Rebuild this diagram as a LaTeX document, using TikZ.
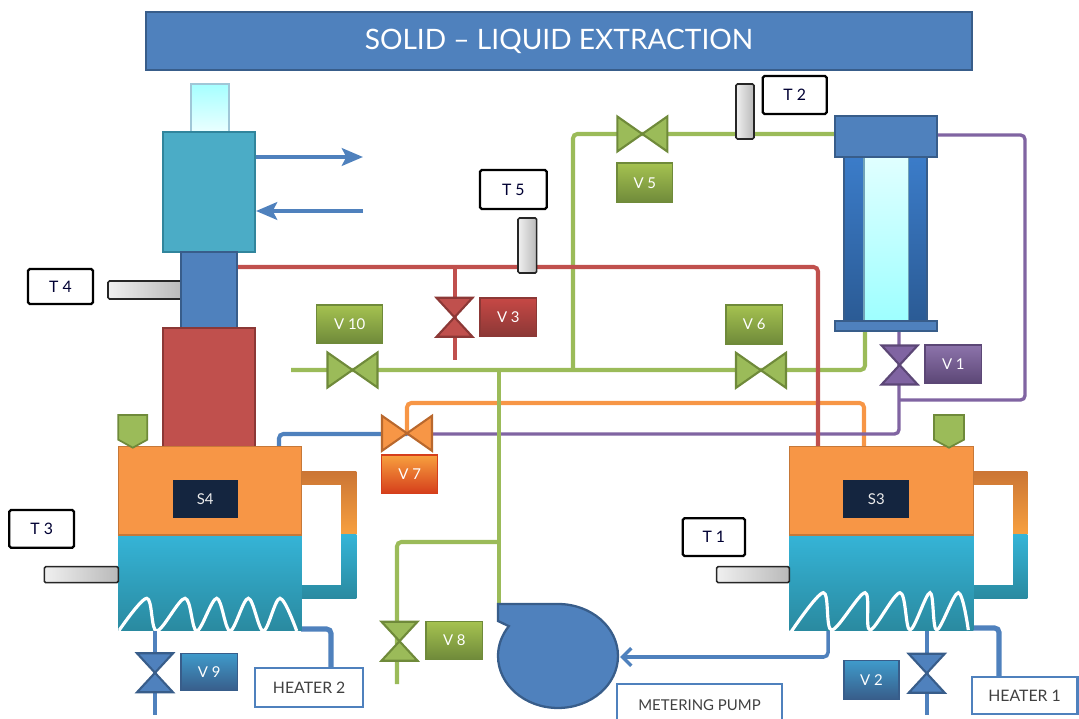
\documentclass[tikz,border=0pt]{standalone}
\usepackage{fontspec}
\setmainfont{Lato}
\usetikzlibrary{arrows.meta,fit}

\definecolor{hdblue}{HTML}{4F81BD}
\definecolor{hdbluedk}{HTML}{385D8A}
\definecolor{lgreen}{HTML}{9BBB59}
\definecolor{lgreendk}{HTML}{6F8A3A}
\definecolor{lred}{HTML}{C0504D}
\definecolor{lreddk}{HTML}{8C3836}
\definecolor{lorange}{HTML}{F79646}
\definecolor{lorangedk}{HTML}{B9682D}
\definecolor{lpurple}{HTML}{8064A2}
\definecolor{lpurpledk}{HTML}{5C4776}
\definecolor{cond}{HTML}{4BACC6}
\definecolor{conddk}{HTML}{31859C}
\definecolor{bathtop}{HTML}{35B4D7}
\definecolor{bathbot}{HTML}{2A8AA0}
\definecolor{navy}{HTML}{14253F}
\definecolor{colbody}{HTML}{3B7CC9}
\definecolor{colbodydk}{HTML}{2B5B95}

\newcommand\tagfont{\fontsize{8.5}{10}\selectfont}
\newcommand\tfont{\fontsize{9}{10}\selectfont}

\begin{document}
\begin{tikzpicture}[x=0.02cm,y=-0.02cm,
  pipe/.style={line width=2.3pt, rounded corners=2.5pt},
  tag/.style 2 args={inner sep=0pt, top color=#1, bottom color=#2, draw=#2, line width=0.6pt},
  tagtext/.style={inner sep=0pt, text=white, font=\tagfont},
  tbox/.style={inner sep=0pt, fill=white, draw=black, line width=1.3pt, rounded corners=1pt},
  ttext/.style={inner sep=0pt, text=black!80!blue, font=\tfont},
  boxlabel/.style={inner sep=0pt, fill=white, draw=hdblue, line width=1.2pt},
  boxtext/.style={inner sep=0pt, text=black!75, font=\tfont},
  sensor/.style={draw=black!85, line width=0.9pt, rounded corners=0.8pt, left color=gray!12, right color=gray!55},
  hvalve/.pic={\path[pic actions] (-25,-17.5) -- (0,0) -- (-25,17.5) -- cycle (25,-17.5) -- (0,0) -- (25,17.5) -- cycle;},
  vvalve/.pic={\path[pic actions] (-18,-19.5) -- (0,0) -- (18,-19.5) -- cycle (-18,19.5) -- (0,0) -- (18,19.5) -- cycle;},
  gvalve/.style={fill=lgreen, draw=lgreendk, line width=1.2pt},
  ]
\useasboundingbox (0,0) rectangle (1079,719);

% ---------- title ----------
\node[fit={(146,12)(972,70)}, inner sep=0pt, fill=hdblue, draw=hdbluedk, line width=1.2pt] (title) {};
\node[inner sep=0pt, text=white, font=\fontsize{16}{18}\selectfont] (titletext) at (title.center) {SOLID – LIQUID EXTRACTION};

% ---------- pipe junctions ----------
\coordinate (gW) at (291,370);
\coordinate (gJ1) at (499,370);
\coordinate (gJ2) at (573,370);
\coordinate (gE) at (865,370);
\coordinate (colB) at (865,329);
\coordinate (gN) at (573,134);
\coordinate (colT) at (836,134);
\coordinate (gJ3) at (499,542);
\coordinate (gV8) at (397,542);
\coordinate (gS) at (397,684);
\coordinate (pumpO) at (499,606);

\coordinate (rW) at (237,267);
\coordinate (rE) at (818,267);
\coordinate (rS3) at (818,448);
\coordinate (rV3) at (455,267);
\coordinate (rV3e) at (455,360);

\coordinate (oV7) at (407,433);
\coordinate (oN) at (407,403);
\coordinate (oE) at (864,403);
\coordinate (oS3) at (864,448);

\coordinate (pV7) at (407,434);
\coordinate (pJ) at (899,434);
\coordinate (pV1) at (899,330);
\coordinate (pT) at (937,135);
\coordinate (pTR) at (1025,135);
\coordinate (pBR) at (1025,400);
\coordinate (pM) at (899,400);

\coordinate (bS4) at (279,448);
\coordinate (bN) at (279,434);

% ---------- process lines ----------
\draw[pipe, lorange] (oV7) -- (oN) -- (oE) -- (oS3);
\draw[pipe, lpurple, line width=1.9pt] (pV7) -- (pJ) -- (pV1);
\draw[pipe, lpurple, line width=1.9pt] (pT) -- (pTR) -- (pBR) -- (pM);
\draw[pipe, hdblue] (bS4) -- (bN) -- (pV7);
\draw[pipe, lgreen] (gW) -- (gE) -- (colB);
\draw[pipe, lgreen] (gJ2) -- (gN) -- (colT);
\draw[pipe, lgreen] (gJ1) -- (pumpO);
\draw[pipe, lgreen] (gJ3) -- (gV8) -- (gS);
\draw[pipe, lred] (rW) -- (rE) -- (rS3);
\draw[pipe, lred] (rV3) -- (rV3e);

% lines under the baths
\coordinate (s4b) at (155,630);
\coordinate (s4bE) at (155,715);
\coordinate (s4h) at (301,629);
\coordinate (s4hc) at (331,629);
\coordinate (h2t) at (331,669);
\coordinate (s3b) at (927,630);
\coordinate (s3bE) at (927,715);
\coordinate (s3h) at (973,628);
\coordinate (s3hc) at (999,628);
\coordinate (h1t) at (999,677);
\coordinate (s3p) at (828,630);
\coordinate (s3pc) at (828,657);
\coordinate (pumpI) at (620,657);
\draw[pipe, hdblue] (s4b) -- (s4bE);
\draw[pipe, hdblue, line width=2.9pt] (s4h) -- (s4hc) -- (h2t);
\draw[pipe, hdblue] (s3b) -- (s3bE);
\draw[pipe, hdblue, line width=2.9pt] (s3h) -- (s3hc) -- (h1t);
\draw[pipe, hdblue, line width=2pt, -{Straight Barb[length=5pt,width=10pt]}] (s3p) -- (s3pc) -- (pumpI);

% ---------- condenser and reflux column ----------
\draw[sensor] (108,281) rectangle (182,299);
\draw[top color=cyan!35, bottom color=cyan!8, draw=cyan!45!gray!60, line width=1pt] (190.7,84) rectangle (229,131.7);
\node[fit={(163,131.7)(255,251.7)}, inner sep=0pt, fill=cond, draw=conddk, line width=1.3pt] (cond) {};
\node[fit={(181,251.7)(236.7,328)}, inner sep=0pt, fill=hdblue, draw=hdbluedk, line width=1.3pt] (riser) {};
\node[fit={(163.3,328)(255,446.7)}, inner sep=0pt, fill=lred, draw=lreddk, line width=1pt] (flask) {};
\coordinate (cwOut0) at (256,157);
\coordinate (cwOut1) at (363,157);
\coordinate (cwIn0) at (363,211);
\coordinate (cwIn1) at (256,211);
\draw[hdblue, line width=2.8pt, -{Stealth[length=12pt,width=10pt,inset=2.5pt]}] (cwOut0) -- (cwOut1);
\draw[hdblue, line width=2.8pt, -{Stealth[length=12pt,width=10pt,inset=2.5pt]}] (cwIn0) -- (cwIn1);

% ---------- extraction column ----------
\draw[top color=colbody, bottom color=colbodydk, draw=hdbluedk, line width=1pt] (844,156.7) rectangle (926.7,320.7);
\draw[top color=cyan!12, bottom color=cyan!38, draw=cyan!40!gray, line width=0.6pt] (864,156.7) rectangle (908.3,320.7);
\node[fit={(835,115.7)(936.7,156.7)}, inner sep=0pt, fill=hdblue, draw=hdbluedk, line width=1.3pt] (colcap) {};
\node[fit={(835,320.7)(936.7,330.7)}, inner sep=0pt, fill=hdblue, draw=hdbluedk, line width=1.3pt] (colfoot) {};

% ---------- bath S4 ----------
\begin{scope}[shift={(118.3,446.7)}]
  \fill[top color=lorangedk!70!lorange, bottom color=lorange!90!yellow] (183.4,25) rectangle (238,88.3);
  \fill[top color=bathtop, bottom color=bathbot] (183.4,88.3) rectangle (238,151.6);
  \fill[white] (183.4,38.3) rectangle (222.4,138.3);
  \fill[top color=bathtop, bottom color=bathbot] (0,88.3) rectangle (183.4,183.3);
  \draw[fill=lorange, draw=lorange!80!black, line width=0.8pt] (0,88.3) -- (0,0) -- (183.4,0) -- (183.4,88.3) -- cycle;
  \draw[fill=lgreen, draw=lgreendk, line width=1pt] (0,-31.7) -- (29,-31.7) -- (29,-7) -- (14.5,1) -- (0,-7) -- cycle;
\end{scope}
\begin{scope}
  \clip (118.3,535) rectangle (301.7,630);
  \draw[white, line width=1.8pt] plot[smooth, tension=0.55] coordinates {(118,632) (146.7,598.3) (156.7,631) (185,598.3) (196.7,631) (216.7,598.3) (230,631) (248.3,598.3) (263.3,631) (280,598.3) (296.7,631)};
\end{scope}
\node[fit={(172.7,480)(237.7,518.3)}, inner sep=0pt, fill=navy] (s4) {};
\node[tagtext, text=white!85!gray] (s4x) at (s4.center) {S4};

% ---------- bath S3 ----------
\begin{scope}[shift={(789.3,446.7)}]
  \fill[top color=lorangedk!70!lorange, bottom color=lorange!90!yellow] (184,25) rectangle (238,88.3);
  \fill[top color=bathtop, bottom color=bathbot] (184,88.3) rectangle (238,151.6);
  \fill[white] (184,38.3) rectangle (224,138.3);
  \fill[top color=bathtop, bottom color=bathbot] (0,88.3) rectangle (184,183.3);
  \draw[fill=lorange, draw=lorange!80!black, line width=0.8pt] (0,88.3) -- (0,0) -- (184,0) -- (184,88.3) -- cycle;
  \draw[fill=lgreen, draw=lgreendk, line width=1pt] (144.7,-31.7) -- (174.7,-31.7) -- (174.7,-7) -- (159.7,1) -- (144.7,-7) -- cycle;
\end{scope}
\begin{scope}
  \clip (789.3,535) rectangle (973.3,630);
  \draw[white, line width=1.8pt] plot[smooth, tension=0.55] coordinates {(791,632) (823.3,592.7) (831.7,630) (865,592.7) (870,630) (900,592.7) (910,630) (930,592.7) (936.7,630) (958.3,592.7) (968.3,630)};
\end{scope}
\node[fit={(843.3,480)(909.3,518.3)}, inner sep=0pt, fill=navy] (s3) {};
\node[tagtext, text=white!85!gray] (s3x) at (s3.center) {S3};

% ---------- metering pump ----------
\draw[fill=hdblue, draw=hdbluedk, line width=1.3pt] (498,604) -- (558,604)
  arc[start angle=90, end angle=-215, x radius=1.2cm, y radius=1.04cm] -- (498,621) -- cycle;

% ---------- valves ----------
\pic[gvalve] (v5) at (642.3,134) {hvalve};
\pic[gvalve] (v6) at (761,370.3) {hvalve};
\pic[gvalve] (v10) at (352.5,370) {hvalve};
\pic[gvalve] (v8) at (399.5,641.2) {vvalve};
\pic[fill=lorange, draw=lorangedk, line width=1.2pt] (v7) at (407,433.3) {hvalve};
\pic[fill=lred, draw=lreddk, line width=1.2pt] (v3) at (454.5,317.3) {vvalve};
\pic[fill=lpurple, draw=lpurpledk, line width=1.2pt] (v1) at (899.6,365) {vvalve};
\pic[fill=hdblue, draw=hdbluedk, line width=1.2pt] (v9) at (155,672.8) {vvalve};
\pic[fill=hdblue, draw=hdbluedk, line width=1.2pt] (v2) at (926.7,673.3) {vvalve};

% ---------- valve tags ----------
\node[tag={lgreen!90!yellow}{lgreendk}, fit={(316.7,305)(382.7,343)}] (v10t) {};
\node[tag={lgreen!90!yellow}{lgreendk}, fit={(617,163)(672.7,202.7)}] (v5t) {};
\node[tag={lgreen!90!yellow}{lgreendk}, fit={(726,305)(782.3,344)}] (v6t) {};
\node[tag={lgreen!90!yellow}{lgreendk}, fit={(426,621.7)(482.7,659.3)}] (v8t) {};
\node[tag={lred!90!red}{lreddk}, fit={(480,298)(536.7,336)}] (v3t) {};
\node[tag={lpurple!90!white}{lpurpledk}, fit={(925,345)(981.7,383)}] (v1t) {};
\node[tag={lorange!90!yellow}{lorangedk!60!red}, fit={(381.7,455)(437.7,493.3)}] (v7t) {};
\node[tag={hdblue!80!cyan}{hdbluedk}, fit={(181,653.3)(237.3,690.7)}] (v9t) {};
\node[tag={hdblue!80!cyan}{hdbluedk}, fit={(844,660.7)(899,699.3)}] (v2t) {};
\node[tagtext] (v10x) at (v10t.center) {V 10};
\node[tagtext] (v5x) at (v5t.center) {V 5};
\node[tagtext] (v6x) at (v6t.center) {V 6};
\node[tagtext] (v8x) at (v8t.center) {V 8};
\node[tagtext] (v3x) at (v3t.center) {V 3};
\node[tagtext] (v1x) at (v1t.center) {V 1};
\node[tagtext] (v7x) at (v7t.center) {V 7};
\node[tagtext] (v9x) at (v9t.center) {V 9};
\node[tagtext] (v2x) at (v2t.center) {V 2};

% ---------- temperature probes ----------
\draw[sensor] (736,84) rectangle (754,139);
\draw[sensor] (518,218) rectangle (536.7,273);
\draw[sensor] (44.3,566.7) rectangle (118.3,582.7);
\draw[sensor] (716.7,566.7) rectangle (789.3,582.7);
\node[tbox, fit={(762.7,76)(826.7,114)}] (t2) {};
\node[tbox, fit={(480,170)(546.7,209)}] (t5) {};
\node[tbox, fit={(28,269)(93,304)}] (t4) {};
\node[tbox, fit={(9.3,510)(74,547.7)}] (t3) {};
\node[tbox, fit={(682.7,518.3)(745,556)}] (t1) {};
\node[ttext] (t2x) at (t2.center) {T 2};
\node[ttext] (t5x) at (t5.center) {T 5};
\node[ttext] (t4x) at (t4.center) {T 4};
\node[ttext] (t3x) at (t3.center) {T 3};
\node[ttext] (t1x) at (t1.center) {T 1};

% ---------- equipment names ----------
\node[boxlabel, fit={(255,668.3)(363.3,706.7)}] (heat2) {};
\node[boxlabel, fit={(971.7,676.7)(1077.5,714.3)}] (heat1) {};
\node[boxlabel, fit={(616.7,684)(782.3,726)}] (mpump) {};
\node[boxtext] (heat2x) at (heat2.center) {HEATER 2};
\node[boxtext] (heat1x) at (heat1.center) {HEATER 1};
\node[boxtext, font=\fontsize{8.5}{10}\selectfont] (mpumpx) at (mpump.center) {METERING PUMP};
\end{tikzpicture}
\end{document}
